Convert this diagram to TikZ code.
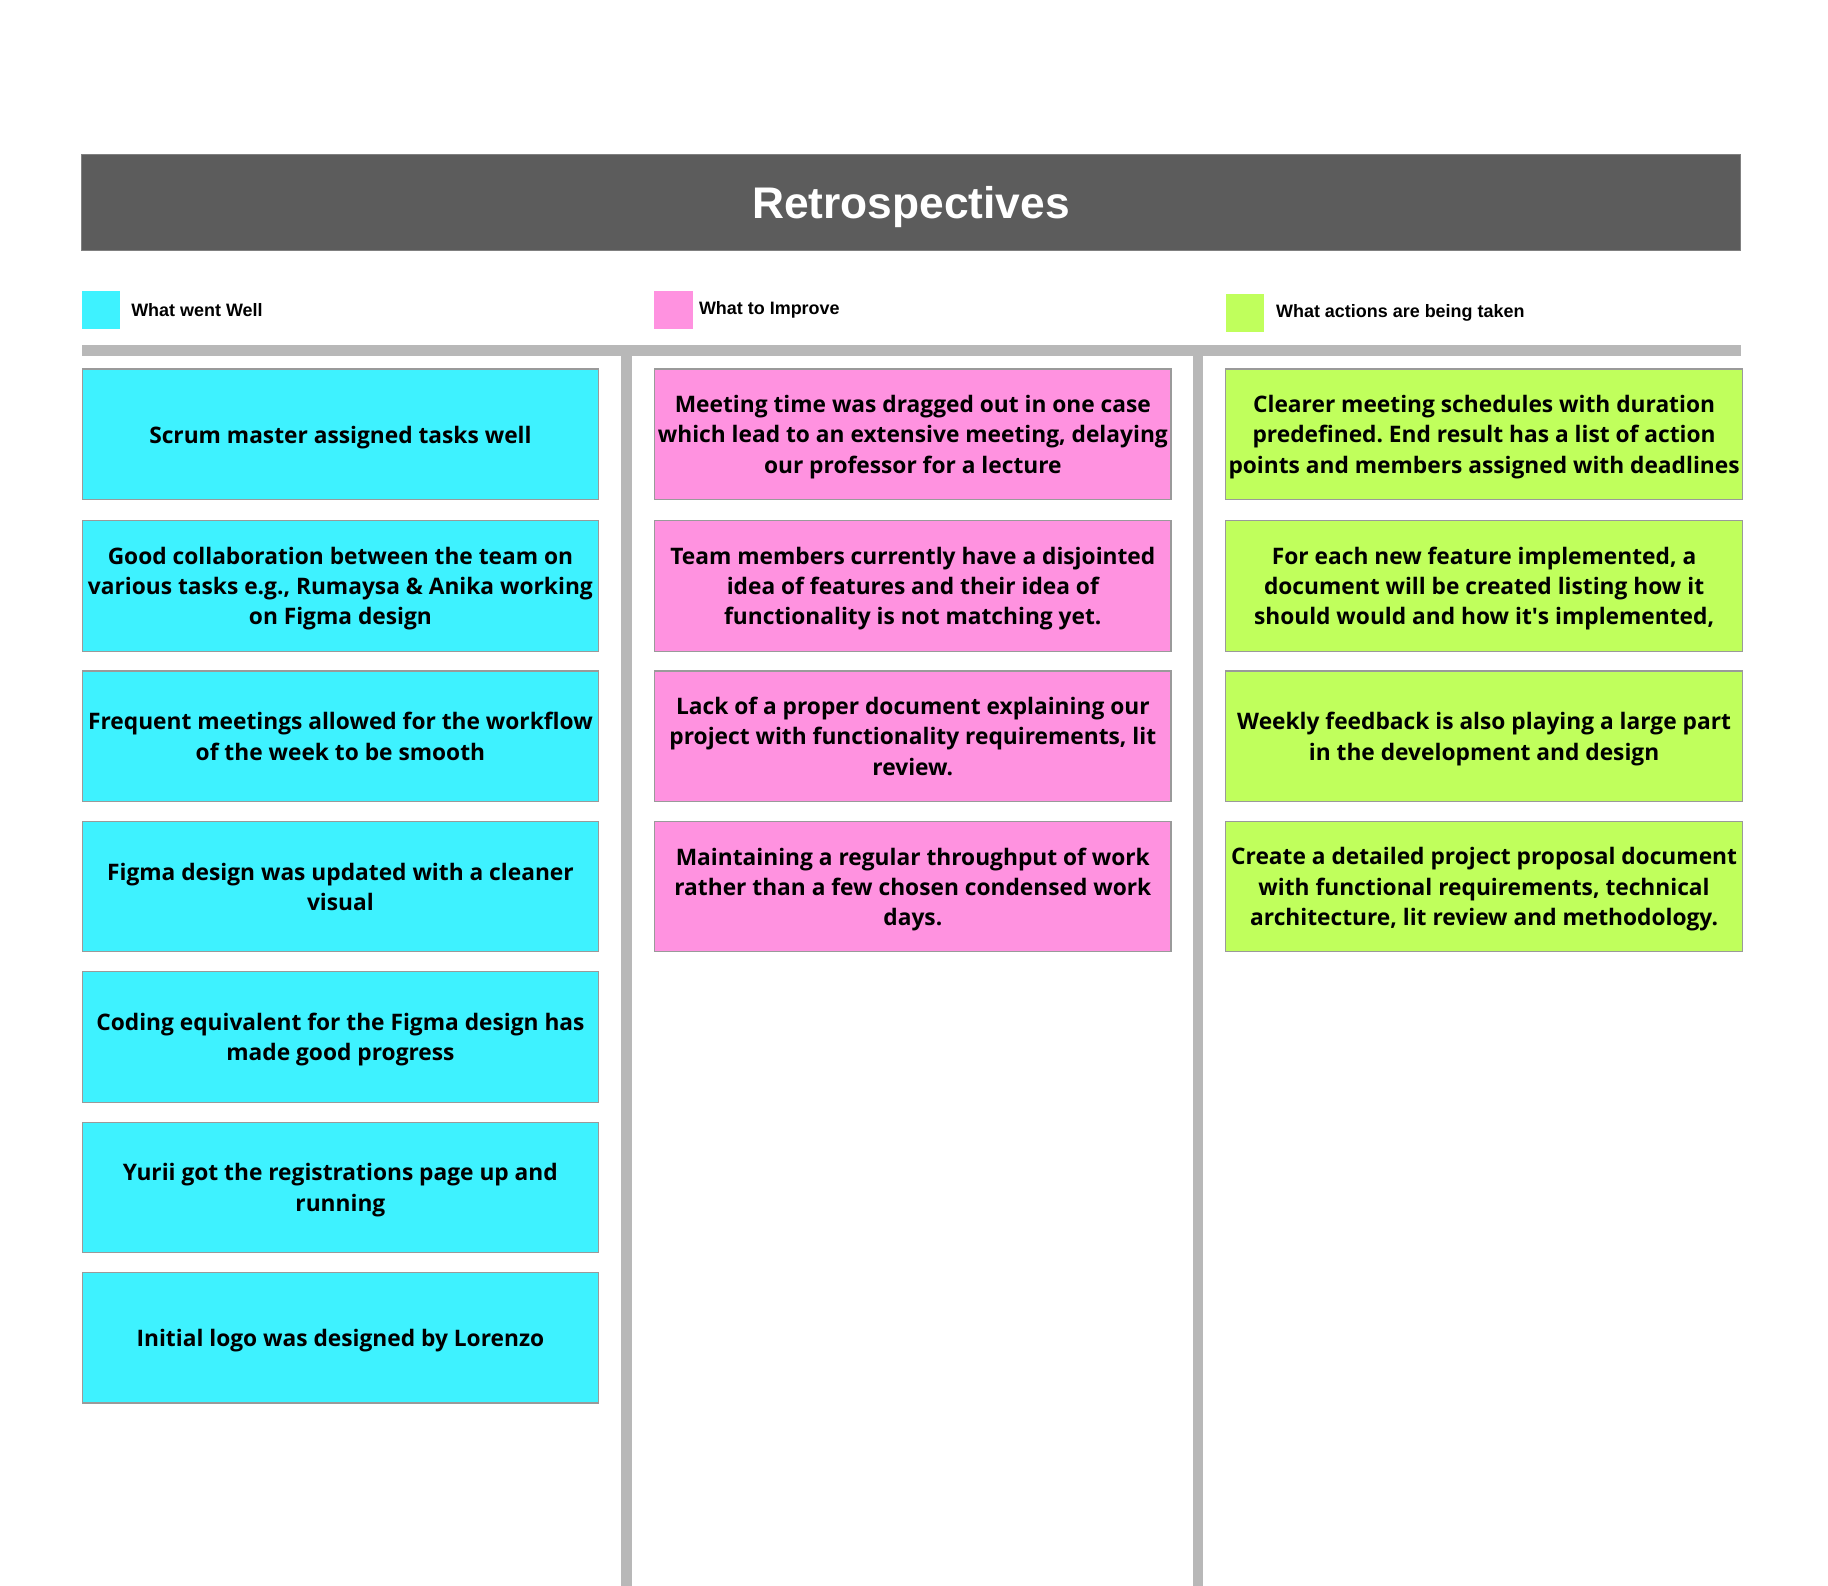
\documentclass[tikz,border=0pt]{standalone}
\usepackage{fontspec}
\setmainfont{Open Sans}
\newfontfamily\arialfont{Liberation Sans}
\usetikzlibrary{positioning}
\frenchspacing

\definecolor{titlegray}{HTML}{5C5C5C}
\definecolor{railgray}{HTML}{B8B8B8}
\definecolor{cardedge}{HTML}{9A9A9A}
\definecolor{wellcyan}{HTML}{3EF2FF}
\definecolor{improvepink}{HTML}{FF92E0}
\definecolor{actiongreen}{HTML}{C0FF5C}

\tikzset{
  card/.style={draw=cardedge, line width=1pt, minimum width=443pt, minimum height=112pt,
    inner sep=1pt, align=center, anchor=north west, text depth=-2pt,
    font=\bfseries\fontsize{19.5}{26}\selectfont,
    execute at begin node={\rule{0pt}{15pt}}},
  wellcard/.style={card, fill=wellcyan},
  improvecard/.style={card, fill=improvepink},
  actioncard/.style={card, fill=actiongreen},
  legendbox/.style={minimum size=33pt, inner sep=0pt, anchor=north west},
  legendtext/.style={anchor=west, inner sep=0pt, font=\arialfont\bfseries\fontsize{15.4}{18}\selectfont},
  rail/.style={fill=railgray}
}

\begin{document}
\begin{tikzpicture}[x=1pt,y=-1pt]
            \useasboundingbox (0,0) rectangle (1568,1360);
            % header
            \draw[fill=titlegray, draw=gray] (70,132) rectangle (1493,215);
            \node[text=white, font=\arialfont\bfseries\fontsize{38}{44}\selectfont] (title) at (781.5,178) {Retrospectives};
            % legend
            \node[legendbox, fill=wellcyan] (wellkey) at (70,249) {};
            \node[legendtext, right=9pt of wellkey.east] (welllabel) {What went Well};
            \node[legendbox, fill=improvepink] (improvekey) at (561,249) {};
            \node[legendtext, right=5pt of improvekey.east] (improvelabel) {What to Improve};
            \node[legendbox, fill=actiongreen] (actionkey) at (1051,252) {};
            \node[legendtext, right=10pt of actionkey.east] (actionlabel) {What actions are being taken};
            % rails
            \fill[rail] (70,296) rectangle (1493,305);
            \fill[rail] (533,305) rectangle (542,1360);
            \fill[rail] (1023,305) rectangle (1032,1360);
            % what went well
            \node[wellcard] (well1) at (70,316) {Scrum master assigned tasks well};
            \node[wellcard] (well2) at (70,446) {Good collaboration between the team on\\various tasks e.g., Rumaysa \& Anika working\\on Figma design};
            \node[wellcard] (well3) at (70,575) {Frequent meetings allowed for the workflow\\of the week to be smooth};
            \node[wellcard] (well4) at (70,704) {Figma design was updated with a cleaner\\visual};
            \node[wellcard] (well5) at (70,833) {Coding equivalent for the Figma design has\\made good progress};
            \node[wellcard] (well6) at (70,962) {Yurii got the registrations page up and\\running};
            \node[wellcard] (well7) at (70,1091) {Initial logo was designed by Lorenzo};
            % what to improve
            \node[improvecard] (improve1) at (561,316) {Meeting time was dragged out in one case\\which lead to an extensive meeting, delaying\\our professor for a lecture};
            \node[improvecard] (improve2) at (561,446) {Team members currently have a disjointed\\idea of features and their idea of\\functionality is not matching yet.};
            \node[improvecard] (improve3) at (561,575) {Lack of a proper document explaining our\\project with functionality requirements, lit\\review.};
            \node[improvecard] (improve4) at (561,704) {Maintaining a regular throughput of work\\rather than a few chosen condensed work\\days.};
            % actions
            \node[actioncard] (action1) at (1051,316) {Clearer meeting schedules with duration\\predefined. End result has a list of action\\points and members assigned with deadlines};
            \node[actioncard] (action2) at (1051,446) {For each new feature implemented, a\\document will be created listing how it\\should would and how it\textquotesingle s implemented,};
            \node[actioncard] (action3) at (1051,575) {Weekly feedback is also playing a large part\\in the development and design};
            \node[actioncard] (action4) at (1051,704) {Create a detailed project proposal document\\with functional requirements, technical\\architecture, lit review and methodology.};
        \end{tikzpicture}
\end{document}
